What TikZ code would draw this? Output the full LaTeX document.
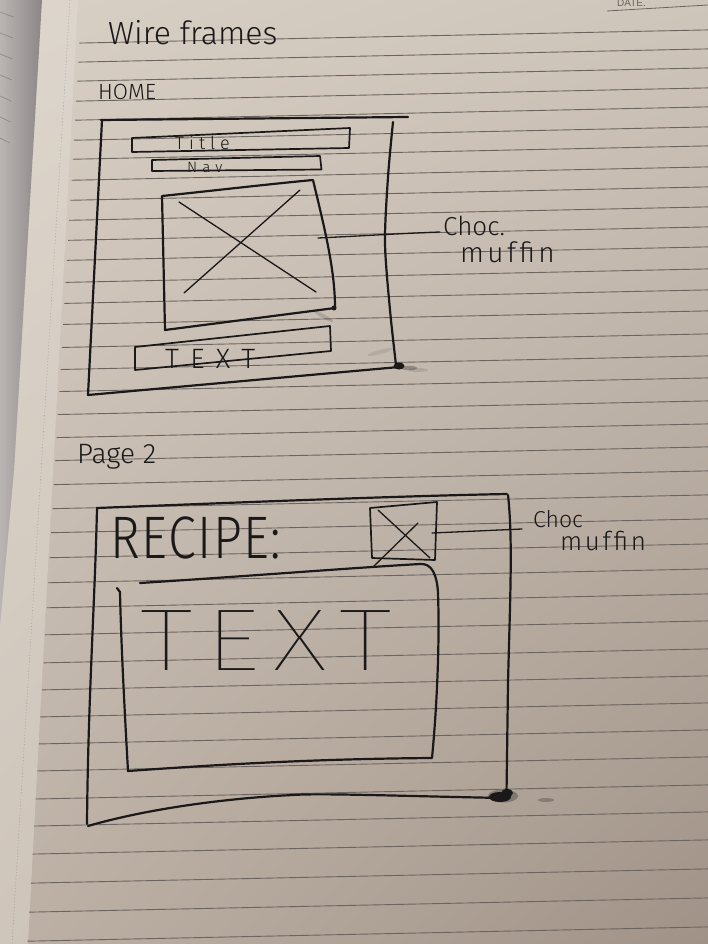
\documentclass[tikz,border=0pt]{standalone}
\usepackage{fontspec}
\usetikzlibrary{shadings}
\setsansfont{Liberation Sans}
\newfontfamily\handlight{Fira Sans Light}
\newfontfamily\handthin{Fira Sans Thin}
\newcommand\handsize[1]{\fontsize{#1}{#1}\selectfont}

\definecolor{ink}{RGB}{26,24,25}
\definecolor{rulegray}{RGB}{108,100,95}
\definecolor{paperUL}{RGB}{217,208,197}
\definecolor{paperUR}{RGB}{206,197,187}
\definecolor{paperLL}{RGB}{189,177,166}
\definecolor{paperLR}{RGB}{160,146,134}
\definecolor{stripL}{RGB}{186,181,179}
\definecolor{stripR}{RGB}{140,135,134}
\definecolor{pageedge}{RGB}{228,222,213}

\begin{document}
\begin{tikzpicture}[x=1pt,y=-1pt,
  pen/.style={draw=ink,line width=2.2pt,line cap=round,line join=round},
  midpen/.style={draw=ink,line width=1.7pt,line cap=round,line join=round},
  thinpen/.style={draw=ink,line width=1.3pt,line cap=round},
  rule/.style={draw=rulegray,line width=0.9pt},
  hand/.style={text=ink,inner sep=0pt,anchor=base west},
  smudge/.style={fill=ink,opacity=#1},
]
\useasboundingbox (0,0) rectangle (708,944);

% ---------- paper ----------
\shade[upper left=paperUL,upper right=paperUR,lower left=paperLL,lower right=paperLR]
  (0,0) rectangle (708,944);
% light margin strip at the page edge
\fill[pageedge,opacity=0.45] (42,0) -- (78,0) -- (28,944) -- (0,944) -- (0,625) -- (14,470) -- cycle;
% the facing page, seen at the left
\shade[left color=stripL,right color=stripR] (0,0) -- (42,0) -- (14,470) -- (0,625) -- cycle;
\foreach \yy in {12,33,54,75,96,117,138}
  \draw[rulegray,opacity=0.5,line width=0.7pt] (0,\yy) -- ({14-0.03*\yy},\yy+5);
% perforation
\draw[rulegray,opacity=0.35,line width=0.6pt,dash pattern=on 1.2pt off 2pt] (70,0) -- (12,944);

% ruled lines (slightly rising to the right)
\foreach \yy in {33,52,71,91,110,130,149,170,190,210,230,250,272,293,314,337,359,381,404,427,450,474,498,522,547,572,597,624,652,679,706,733,760,788,815,843,872,901,930}{
  \pgfmathsetmacro\xs{81.4-0.058*\yy}
  \draw[rule] (\xs,{\yy+0.021*(560-\xs)}) -- (708,\yy-3.1);
}
% date field in the header
\node[font=\sffamily\handsize{10},text=rulegray,inner sep=0pt,anchor=base west] (date) at (617,6.5) {DATE.};
\draw[rulegray,line width=0.8pt] (607,11) -- (708,5);

% ---------- headings ----------
\node[hand,font=\handlight\handsize{32}] (heading) at (108,45) {Wire frames};
\node[hand,font=\handlight\handsize{22}] (home) at (98,100) {HOME};

% ---------- HOME frame ----------
\draw[pen] (101,120) -- (408,117);
\draw[pen] plot[smooth] coordinates {(393,122) (388,177) (385,243) (390,310) (396,365)};
\draw[pen] (399,367) -- (88,395);
\draw[pen] (102,120) -- (88,395);
\fill[ink] (399,366) ellipse (5.5 and 3.5);
\fill[smudge=0.3] (409,368) ellipse (8 and 2.2);
\fill[smudge=0.12] (418,370) ellipse (10 and 2);

% title bar
\draw[midpen] (132,138) -- (350,128) -- (349,148) -- (132,152) -- cycle;
\node[hand,font=\handlight\handsize{18}\addfontfeature{LetterSpace=28}] (titletxt) at (175,149.5) {Title};
% nav bar
\draw[midpen] (152,160) -- (320,156) -- (321.5,169.5) -- (152,171) -- cycle;
\node[hand,font=\handlight\handsize{15}\addfontfeature{LetterSpace=34}] (navtxt) at (187,172) {Nav};

% picture placeholder
\draw[pen] (165,330) -- (162,196) .. controls (210,191) and (270,184) .. (313,180)
  .. controls (325,230) and (335,270) .. (335,308) -- cycle;
\draw[thinpen] (179,202) -- (316,292);
\draw[thinpen] (300,190) -- (184,293);
\fill[ink] (334,308) circle (2.5);
\fill[smudge=0.15,rotate around={-30:(323,316)}] (323,316) ellipse (12 and 2);
\fill[smudge=0.1,rotate around={15:(380,352)}] (380,352) ellipse (13 and 2);
\coordinate (imgR) at (318,238);

% text bar
\draw[midpen] (135,347) -- (330,326) -- (331,351) -- (135,370) -- cycle;
\node[hand,font=\handlight\handsize{28}\addfontfeature{LetterSpace=40}] (textbar) at (165,368) {TEXT};

% callout
\node[hand,font=\handlight\handsize{26}] (choc1) at (443,235) {Choc.};
\node[hand,font=\handlight\handsize{28}\addfontfeature{LetterSpace=12}] (muffin1) at (460,262) {muffin};
\draw[thinpen] (imgR) .. controls (360,236) and (410,233) .. ([xshift=-3pt,yshift=3pt]choc1.base west);

% ---------- Page 2 ----------
\node[hand,font=\handlight\handsize{28}] (page2) at (77,463) {Page 2};

% outer frame
\draw[pen] (97,508) .. controls (250,502) and (400,496) .. (507,494);
\draw[pen] (508,495) .. controls (513,540) and (510,600) .. (508,683) -- (506.5,795);
\draw[pen] (503,798) .. controls (400,796) and (320,793) .. (293,795)
  .. controls (230,798) and (150,808) .. (88,826);
\draw[pen] (97,508) .. controls (95,600) and (88,700) .. (87,824);
\fill[smudge=0.3] (503,796) ellipse (15 and 6.5);
\fill[ink] (500,797) ellipse (11 and 5);
\fill[ink] (507,793) ellipse (6 and 4);
\fill[smudge=0.25] (546,800) ellipse (8 and 2);

% heading text
\node[hand,font=\handlight\handsize{60}\addfontfeature{LetterSpace=3}] (recipe) at (110,558) {\scalebox{0.84}[1]{RECIPE:}};

% small picture placeholder
\draw[midpen] (370,508) -- (437,502) -- (435,560) -- (372,558) -- cycle;
\draw[thinpen] (378,510) -- (430,558);
\draw[thinpen] (418,523) -- (373,567);
\coordinate (boxR) at (432,533);

% callout
\node[hand,font=\handlight\handsize{23}] (choc2) at (533,527) {Choc};
\node[hand,font=\handlight\handsize{26}\addfontfeature{LetterSpace=10}] (muffin2) at (560,550) {muffin};
\draw[thinpen] (boxR) -- ([xshift=-11pt,yshift=-2pt]choc2.base west);

% inner text area
\draw[pen] (140,583) .. controls (250,576) and (350,568) .. (420,564)
  .. controls (432,563) and (437,575) .. (438,593)
  .. controls (440,650) and (436,717) .. (432,758)
  .. controls (300,759) and (200,766) .. (128,771)
  .. controls (124,700) and (121,640) .. (120,592) -- (117,588);
\node[hand,font=\handthin\handsize{88}\addfontfeature{LetterSpace=12}] (bigtext) at (140,670) {\scalebox{1.25}[1]{TEXT}};

\end{tikzpicture}
\end{document}
